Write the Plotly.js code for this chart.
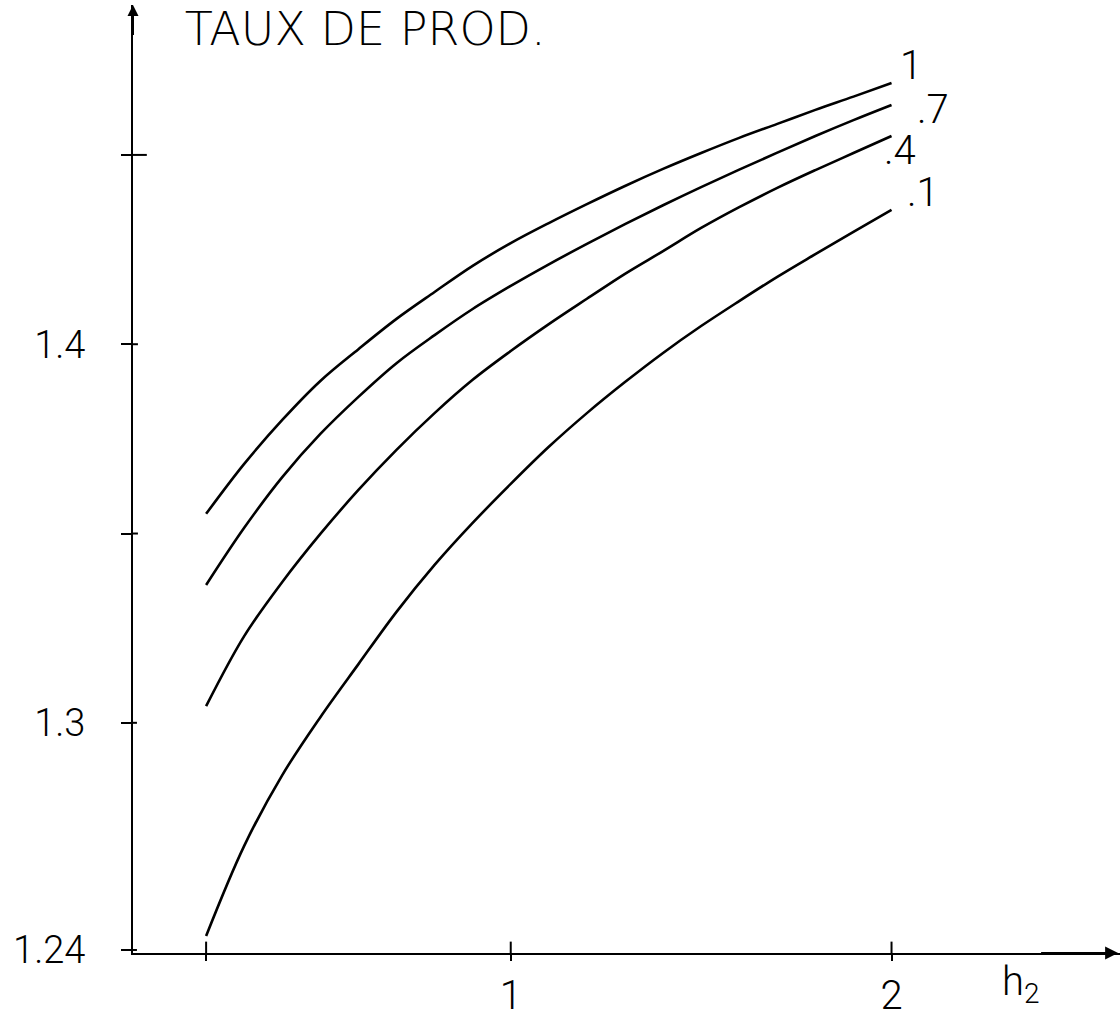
<!DOCTYPE html>
<html>
<head>
<meta charset="utf-8">
<script src="https://cdn.plot.ly/plotly-3.0.1.min.js"></script>
<style>html,body{margin:0;padding:0;background:#fff;}#chart{width:1120px;height:1026px;}</style>
</head>
<body>
<div id="chart"></div>
<script>
// h2 values
var h2 = [0.2, 0.3, 0.4, 0.5, 0.6, 0.7, 0.8, 0.9, 1.0, 1.1, 1.2, 1.3, 1.4, 1.5, 1.6, 1.7, 1.8, 1.9, 2.0];
// taux de production for each curve parameter
var curve1  = [1.3552, 1.3684, 1.3800, 1.3903, 1.3987, 1.4067, 1.4138, 1.4207, 1.4267, 1.4320,
               1.4370, 1.4418, 1.4463, 1.4505, 1.4545, 1.4582, 1.4619, 1.4654, 1.4690];
var curve07 = [1.3364, 1.3515, 1.3649, 1.3763, 1.3861, 1.3950, 1.4024, 1.4093, 1.4154, 1.4211,
               1.4265, 1.4317, 1.4367, 1.4415, 1.4461, 1.4506, 1.4550, 1.4592, 1.4632];
var curve04 = [1.3044, 1.3229, 1.3372, 1.3499, 1.3615, 1.3721, 1.3818, 1.3906, 1.3982, 1.4053,
               1.4120, 1.4186, 1.4246, 1.4307, 1.4362, 1.4413, 1.4460, 1.4505, 1.4550];
var curve01 = [1.2437, 1.2675, 1.2862, 1.3015, 1.3155, 1.3293, 1.3417, 1.3528, 1.3631, 1.3729,
               1.3818, 1.3900, 1.3977, 1.4048, 1.4114, 1.4178, 1.4238, 1.4297, 1.4355];
var curveLabels = ['1', '.7', '.4', '.1'];

var yTickVals = [1.24, 1.3, 1.35, 1.4, 1.45];
var yTickText = ['1.24', '1.3', '', '1.4', ''];
var xTickVals = [0.2, 1, 2];
var xTickText = ['', '1', '2'];
var titleText = 'TAUX DE PROD.';
var xAxisLabel = 'h<sub>2</sub>';

var FONT = 'Roboto, "Open Sans", "Liberation Sans", sans-serif';
var TFONT = '"DejaVu Sans", Roboto, sans-serif';

var series = [curve1, curve07, curve04, curve01];
var traces = series.map(function (ys, i) {
  return {
    x: h2, y: ys, type: 'scatter', mode: 'lines',
    line: {color: '#000', width: 2.6, shape: 'spline', smoothing: 1},
    name: curveLabels[i], hoverinfo: 'skip'
  };
});

// label positions near the curve ends
var labelX = [2.051, 2.109, 2.022, 2.083];
var labelY = [1.4735, 1.4619, 1.4513, 1.4402];

var annotations = curveLabels.map(function (t, i) {
  return {
    x: labelX[i], y: labelY[i], xref: 'x', yref: 'y', text: t, showarrow: false,
    font: {family: FONT, size: 40, color: '#000', weight: 300},
    xanchor: 'center', yanchor: 'middle'
  };
});
annotations.push({
  x: 2.34, y: -0.033, xref: 'x', yref: 'paper', text: xAxisLabel, showarrow: false,
  font: {family: FONT, size: 40, color: '#000', weight: 300}, xanchor: 'center', yanchor: 'middle'
});
// axis arrowheads
annotations.push({
  x: 2.595, y: 0, xref: 'x', yref: 'paper', ax: -80, ay: 0, text: ' ', showarrow: true,
  arrowhead: 2, arrowsize: 1.3, arrowwidth: 2, arrowcolor: '#000'
});
annotations.push({
  x: 0.008, y: 1, xref: 'x', yref: 'paper', ax: 0, ay: 40, text: ' ', showarrow: true,
  arrowhead: 2, arrowsize: 1.1, arrowwidth: 2, arrowcolor: '#000'
});

// inside parts of the crossing tick marks
var shapes = [];
var yInside = [0.004, 0.004, 0.005, 0.005, 0.014];
yTickVals.forEach(function (v, i) {
  shapes.push({type: 'line', xref: 'paper', yref: 'y', x0: 0, x1: yInside[i], y0: v, y1: v,
    line: {color: '#000', width: 2}});
});
xTickVals.forEach(function (v) {
  shapes.push({type: 'line', xref: 'x', yref: 'paper', x0: v, x1: v, y0: 0, y1: 0.012,
    line: {color: '#000', width: 2}});
});

var layout = {
  width: 1120, height: 1026,
  margin: {l: 133, r: 0, t: 5, b: 73},
  paper_bgcolor: '#fff', plot_bgcolor: '#fff',
  showlegend: false,
  title: {
    text: titleText, x: 0.165, xanchor: 'left', xref: 'container',
    y: 0.9717, yanchor: 'middle', yref: 'container',
    font: {family: TFONT, size: 46, color: '#000', weight: 200}
  },
  xaxis: {
    range: [0.008, 2.6], showgrid: false, zeroline: false,
    showline: true, linecolor: '#000', linewidth: 2,
    ticks: 'outside', ticklen: 6, tickwidth: 2, tickcolor: '#000',
    tickvals: xTickVals, ticktext: xTickText,
    tickfont: {family: FONT, size: 40, color: '#000', weight: 300}
  },
  yaxis: {
    range: [1.2392, 1.4896], showgrid: false, zeroline: false,
    showline: true, linecolor: '#000', linewidth: 2,
    ticks: 'outside', ticklen: 10, tickwidth: 2, tickcolor: '#000',
    tickvals: yTickVals, ticktext: yTickText,
    ticklabelstandoff: 28,
    tickfont: {family: FONT, size: 38, color: '#000', weight: 300}
  },
  annotations: annotations,
  shapes: shapes
};

Plotly.newPlot('chart', traces, layout, {staticPlot: true, displayModeBar: false});
</script>
</body>
</html>
